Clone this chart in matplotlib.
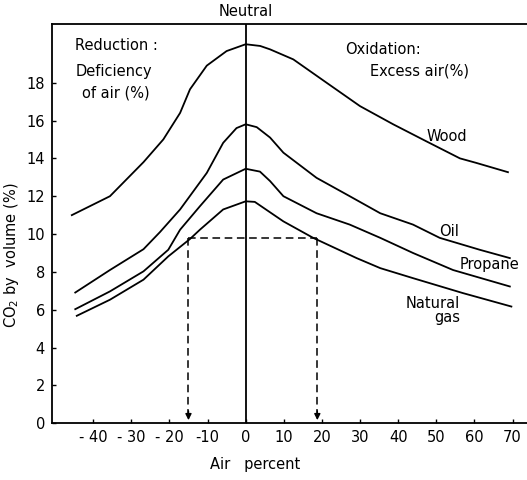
import numpy as np
import matplotlib
matplotlib.use('Agg')
import matplotlib.pyplot as plt

# values
wood_x = [-45.6, -35.6, -26.8, -21.6, -17.2, -14.6, -10.2, -5, 0, 3.8, 6.4, 12.5, 21.2, 30, 38.7, 47.4, 56.2, 60.5, 68.8]
wood_y = [11.0, 12.0, 13.8, 15.0, 16.4, 17.65, 18.9, 19.67, 20.03, 19.94, 19.76, 19.23, 18.0, 16.76, 15.8, 14.9, 14.0, 13.76, 13.27]

oil_x = [-44.7, -35.6, -26.8, -22.5, -17.2, -10.2, -5.9, -2.4, 0, 2.9, 6.4, 9.9, 18.6, 27.3, 35.3, 43.9, 50.9, 61.4, 69.3]
oil_y = [6.91, 8.1, 9.2, 10.1, 11.3, 13.23, 14.82, 15.6, 15.8, 15.65, 15.1, 14.3, 12.97, 12.0, 11.1, 10.5, 9.8, 9.17, 8.73]

propane_x = [-44.7, -35.6, -26.8, -20.3, -17.2, -12, -5.9, 0, 3.75, 6.4, 9.9, 18.6, 27.3, 35.3, 43.9, 54.4, 69.3]
propane_y = [6.03, 6.97, 8.03, 9.17, 10.23, 11.47, 12.88, 13.45, 13.3, 12.8, 12.0, 11.1, 10.5, 9.8, 9.0, 8.1, 7.23]

gas_x = [-44.3, -35.6, -26.8, -20.3, -14.6, -12, -5.9, 0, 2.4, 6.4, 9.9, 17.7, 29.1, 35.3, 43.9, 57, 69.7]
gas_y = [5.68, 6.53, 7.59, 8.82, 9.74, 10.23, 11.3, 11.73, 11.7, 11.15, 10.67, 9.8, 8.73, 8.2, 7.67, 6.88, 6.17]

co2_level = 9.77
deficit_x = -15.0
excess_x = 18.8

xticks = [-40, -30, -20, -10, 0, 10, 20, 30, 40, 50, 60, 70]
xtick_labels = ['- 40', '- 30', '- 20', '-10', '0', '10', '20', '30', '40', '50', '60', '70']
yticks = [0, 2, 4, 6, 8, 10, 12, 14, 16, 18]

fig = plt.figure(figsize=(5.27, 4.80), dpi=100)
ax = fig.add_axes([52/527, (480-423.3)/480, 475/527, 399.3/480])

lw = 1.3
for xs, ys in [(wood_x, wood_y), (oil_x, oil_y), (propane_x, propane_y), (gas_x, gas_y)]:
    ax.plot(xs, ys, color='black', lw=lw, solid_joinstyle='round')

ax.axvline(0, color='black', lw=lw)

# dashed construction lines with arrows
ax.plot([deficit_x, excess_x], [co2_level, co2_level], color='black', lw=1.1, ls=(0, (5, 3)))
for xv in [deficit_x, excess_x]:
    ax.plot([xv, xv], [co2_level, 0.5], color='black', lw=1.1, ls=(0, (5, 3)))
    ax.annotate('', xy=(xv, 0.02), xytext=(xv, 0.8),
                arrowprops=dict(arrowstyle='-|>', color='black', lw=1.0, mutation_scale=9))

ax.set_xlim(-50.8, 73.8)
ax.set_ylim(0, 21.1)
ax.set_xticks(xticks)
ax.set_xticklabels(xtick_labels)
ax.set_yticks(yticks)
ax.tick_params(direction='in', length=3, width=1, labelsize=10.5, pad=5)

for s in ['left', 'bottom', 'top']:
    ax.spines[s].set_linewidth(1.3)
ax.spines['right'].set_visible(False)

ax.set_ylabel('CO$_2$ by  volume (%)', fontsize=10.5)
ax.yaxis.set_label_coords(-0.066, 0.42)
ax.set_xlabel('Air   percent', fontsize=10.5)
ax.xaxis.set_label_coords(0.427, -0.085)

fs = 10.5
ax.text(0, 21.75, 'Neutral', ha='center', va='center', fontsize=fs, clip_on=False)
ax.text(-44.7, 19.94, 'Reduction :', ha='left', va='center', fontsize=fs)
ax.text(-44.7, 18.6, 'Deficiency', ha='left', va='center', fontsize=fs)
ax.text(-42.8, 17.45, 'of air (%)', ha='left', va='center', fontsize=fs)
ax.text(26.0, 19.76, 'Oxidation:', ha='left', va='center', fontsize=fs)
ax.text(32.6, 18.6, 'Excess air(%)', ha='left', va='center', fontsize=fs)
ax.text(52.9, 15.17, 'Wood', ha='center', va='center', fontsize=fs)
ax.text(53.3, 10.14, 'Oil', ha='center', va='center', fontsize=fs)
ax.text(64.0, 8.38, 'Propane', ha='center', va='center', fontsize=fs)
ax.text(56.2, 5.95, 'Natural\ngas', ha='right', va='center', fontsize=fs,
        multialignment='right', linespacing=0.9)

fig.savefig('out.png', dpi=100)
